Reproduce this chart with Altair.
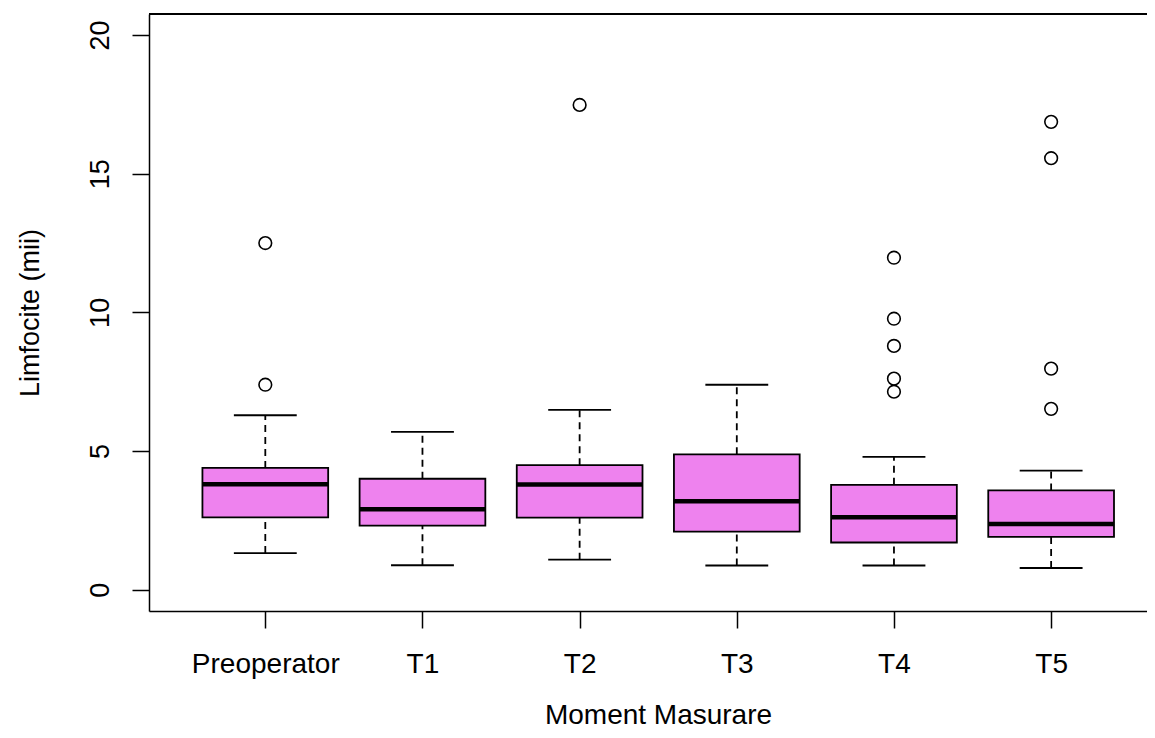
import json
import altair as alt
import pandas as pd

# ---- data ----
categories = ["Preoperator", "T1", "T2", "T3", "T4", "T5"]
lower_whisker = [1.32, 0.88, 1.08, 0.87, 0.87, 0.78]
q1 = [2.61, 2.31, 2.60, 2.09, 1.70, 1.90]
median = [3.80, 2.90, 3.79, 3.19, 2.61, 2.37]
q3 = [4.39, 4.00, 4.49, 4.88, 3.78, 3.58]
upper_whisker = [6.29, 5.69, 6.48, 7.39, 4.79, 4.29]

outlier_group = ["Preoperator", "Preoperator", "T2",
                 "T4", "T4", "T4", "T4", "T4",
                 "T5", "T5", "T5", "T5"]
outlier_value = [7.39, 12.5, 17.48,
                 7.14, 7.61, 8.79, 9.77, 11.97,
                 6.52, 7.97, 15.56, 16.87]

y_ticks = [0, 5, 10, 15, 20]

# ---- tables ----
boxes = pd.DataFrame({
    "cat": categories,
    "pos": list(range(1, len(categories) + 1)),
    "lower": lower_whisker,
    "q1": q1,
    "median": median,
    "q3": q3,
    "upper": upper_whisker,
})
outs = pd.DataFrame({
    "cat": outlier_group,
    "pos": [categories.index(c) + 1 for c in outlier_group],
    "value": outlier_value,
})

W, H = 998, 597
FONT = "Liberation Sans"
VIOLET = "#EE82EE"

x_scale = alt.Scale(domain=[0.26, 6.61], nice=False, zero=False)
y_scale = alt.Scale(domain=[-0.77, 20.76], nice=False, zero=False)

label_expr = json.dumps(categories) + "[datum.value - 1]"

x_axis = alt.Axis(
    values=list(range(1, len(categories) + 1)),
    labelExpr=label_expr,
    title="Moment Masurare",
    labelAngle=0, labelAlign="center", labelBaseline="alphabetic",
    labelPadding=44, tickSize=17, tickWidth=1.5, tickColor="black",
    domainColor="black", domainWidth=1.5, grid=False,
    labelFont=FONT, labelFontSize=28, labelColor="black",
    labelFlush=False, labelOverlap=False,
    titleFont=FONT, titleFontSize=28, titleFontWeight="normal", titleColor="black",
    titleX=509, titleY=112, titleAlign="center", titleBaseline="alphabetic",
    titleAnchor="start",
)
y_axis = alt.Axis(
    values=y_ticks,
    title="Limfocite (mii)",
    labelAngle=270, labelAlign="center", labelBaseline="alphabetic",
    labelPadding=24, tickSize=17, tickWidth=1.5, tickColor="black",
    domainColor="black", domainWidth=1.5, grid=False,
    labelFont=FONT, labelFontSize=27, labelColor="black",
    labelFlush=False, labelOverlap=False,
    titleFont=FONT, titleFontSize=27, titleFontWeight="normal", titleColor="black",
    titleAngle=270, titleX=-111, titleY=H / 2, titleAlign="center",
    titleBaseline="alphabetic", titleAnchor="start",
)

base = alt.Chart(boxes).transform_calculate(
    lo="datum.pos - 0.4", hi="datum.pos + 0.4",
    clo="datum.pos - 0.2", chi="datum.pos + 0.2",
)

whisk_up = base.mark_rule(color="black", strokeWidth=1.8, strokeDash=[7, 5]).encode(
    x=alt.X("pos:Q", scale=x_scale, axis=x_axis),
    y=alt.Y("q3:Q", scale=y_scale, axis=y_axis),
    y2="upper:Q",
)
whisk_lo = base.mark_rule(color="black", strokeWidth=1.8, strokeDash=[7, 5]).encode(
    x=alt.X("pos:Q"), y=alt.Y("lower:Q"), y2="q1:Q",
)
cap_up = base.mark_rule(color="black", strokeWidth=1.8).encode(
    x=alt.X("clo:Q"), x2="chi:Q", y=alt.Y("upper:Q"),
)
cap_lo = base.mark_rule(color="black", strokeWidth=1.8).encode(
    x=alt.X("clo:Q"), x2="chi:Q", y=alt.Y("lower:Q"),
)
box = base.mark_bar(fill=VIOLET, stroke="black", strokeWidth=1.8, opacity=1).encode(
    x=alt.X("lo:Q"), x2="hi:Q", y=alt.Y("q1:Q"), y2="q3:Q",
)
med = base.mark_rule(color="black", strokeWidth=4.5).encode(
    x=alt.X("lo:Q"), x2="hi:Q", y=alt.Y("median:Q"),
)
pts = alt.Chart(outs).mark_point(
    shape="circle", filled=False, size=160, stroke="black", strokeWidth=1.6, opacity=1
).encode(
    x=alt.X("pos:Q"), y=alt.Y("value:Q"),
)
top_border = alt.Chart(boxes).mark_rule(color="black", strokeWidth=1.5).encode(
    x=alt.value(0), x2=alt.value(W), y=alt.value(0),
)

chart = alt.layer(
    whisk_up, whisk_lo, cap_up, cap_lo, box, med, pts, top_border
).properties(
    width=W, height=H,
    autosize=alt.AutoSizeParams(type="none"),
    padding={"left": 141, "top": 6, "right": 0, "bottom": 119},
).configure_view(stroke=None).configure(background="white")

chart.save("out.html", embed_options={"renderer": "svg", "actions": False})
